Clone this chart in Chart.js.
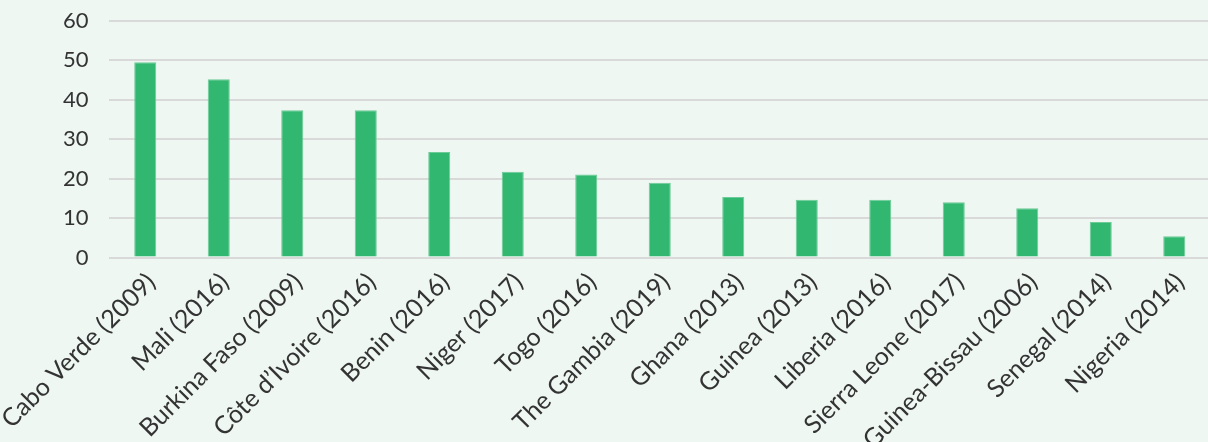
<!DOCTYPE html>
<html>
<head>
<meta charset="utf-8">
<script src="https://cdn.jsdelivr.net/npm/chart.js@4/dist/chart.umd.min.js"></script>
<style>
  html, body { margin: 0; padding: 0; background: #eef7f2; overflow: hidden; }
  #wrap { position: relative; width: 1211px; height: 442px; }
</style>
</head>
<body>
<div id="wrap"><canvas id="c"></canvas></div>
<script>
// Country (survey year)
const categories = [
  'Cabo Verde (2009)', 'Mali (2016)', 'Burkina Faso (2009)', 'Côte d’Ivoire (2016)',
  'Benin (2016)', 'Niger (2017)', 'Togo (2016)', 'The Gambia (2019)', 'Ghana (2013)',
  'Guinea (2013)', 'Liberia (2016)', 'Sierra Leone (2017)', 'Guinea-Bissau (2006)',
  'Senegal (2014)', 'Nigeria (2014)'
];
const values = [49.4, 45.1, 37.3, 37.3, 26.7, 21.7, 21.0, 18.9, 15.3, 14.6, 14.6, 14.0, 12.5, 9.0, 5.4];
const yTicks = [0, 10, 20, 30, 40, 50, 60];

const textColor = '#333333';
const fontFamily = 'Lato, "Open Sans", sans-serif';

new Chart(document.getElementById('c'), {
  type: 'bar',
  data: {
    labels: categories,
    datasets: [{
      data: values,
      backgroundColor: '#31b76f',
      borderColor: '#6dcb97',
      borderWidth: 1,
      barPercentage: 0.3,
      categoryPercentage: 1.0
    }]
  },
  options: {
    responsive: true,
    maintainAspectRatio: false,
    animation: false,
    layout: { padding: { top: 20.5, right: 0, left: 0, bottom: 0 } },
    plugins: { legend: { display: false }, tooltip: { enabled: false } },
    scales: {
      x: {
        grid: { display: false },
        border: { display: false },
        ticks: {
          color: textColor,
          font: { family: fontFamily, size: 25 },
          minRotation: 45,
          maxRotation: 45,
          autoSkip: false,
          padding: 2,
          labelOffset: 6
        },
        afterFit(scale) {
          // fixed band for the slanted labels; no extra side padding
          scale.height = 184.5;
          scale.paddingLeft = 0;
          scale.paddingRight = 0;
        }
      },
      y: {
        min: 0,
        max: 60,
        afterBuildTicks(scale) { scale.ticks = yTicks.map(v => ({ value: v })); },
        grid: { color: '#d9d9d9', lineWidth: 2, drawTicks: false },
        border: { display: false },
        ticks: {
          color: textColor,
          font: { family: fontFamily, size: 22 },
          padding: 20
        },
        afterFit(scale) {
          scale.width = 108.5;
          scale.paddingTop = 0;
          scale.paddingBottom = 0;
        }
      }
    }
  }
});
</script>
</body>
</html>
